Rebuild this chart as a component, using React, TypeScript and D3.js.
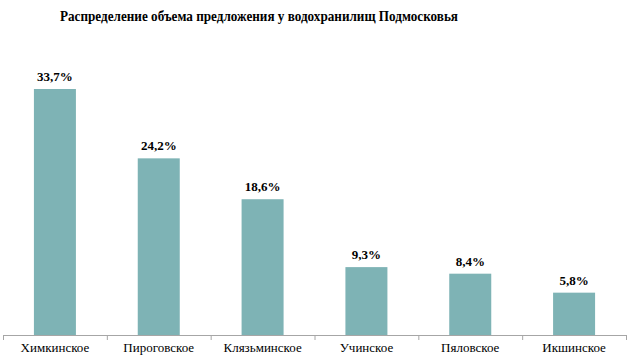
import React from "react";
import * as d3 from "d3";

const categories = ["Химкинское", "Пироговское", "Клязьминское", "Учинское", "Пяловское", "Икшинское"];
const values = [33.7, 24.2, 18.6, 9.3, 8.4, 5.8];
const title = "Распределение объема предложения у водохранилищ Подмосковья";

const W = 633;
const H = 356;
const left = 3;
const right = 626;
const baseline = 335;

export default function App() {
  const band = d3.scaleBand<string>().domain(categories).range([left, right]);
  const y = d3.scaleLinear().domain([0, 33.7]).range([baseline, 89]);
  const fmt = (v: number) => v.toFixed(1).replace(".", ",") + "%";
  const font = "Liberation Serif, serif";
  return (
    <svg width={W} height={H} style={{ position: "absolute", left: 0, top: 0, fontFamily: font }}>
      <rect width={W} height={H} fill="#fff" />
      <text x={60} y={21} fontWeight="bold" fontSize={14.5} fill="#000" textLength={398} lengthAdjust="spacingAndGlyphs" style={{ fontFamily: font }}>
        {title}
      </text>
      {categories.map((c, i) => {
        const bw = 42;
        const cx = band(c)! + band.bandwidth() / 2;
        return (
          <g key={c}>
            <rect x={cx - bw / 2} y={y(values[i])} width={bw} height={baseline - y(values[i])} fill="#7eb3b5" />
            <text x={cx} y={y(values[i]) - 8} textAnchor="middle" fontWeight="bold" fontSize={13} fill="#000" style={{ fontFamily: font }}>
              {fmt(values[i])}
            </text>
            <text x={cx} y={352} textAnchor="middle" fontSize={13} fill="#000" style={{ fontFamily: font }}>
              {c}
            </text>
          </g>
        );
      })}
      <line x1={left} x2={right} y1={baseline + 0.5} y2={baseline + 0.5} stroke="#a6a6a6" />
      {d3.range(categories.length + 1).map((i) => {
        const tx = left + i * band.bandwidth();
        return <line key={i} x1={tx + 0.5} x2={tx + 0.5} y1={baseline} y2={baseline + 5} stroke="#a6a6a6" />;
      })}
    </svg>
  );
}
